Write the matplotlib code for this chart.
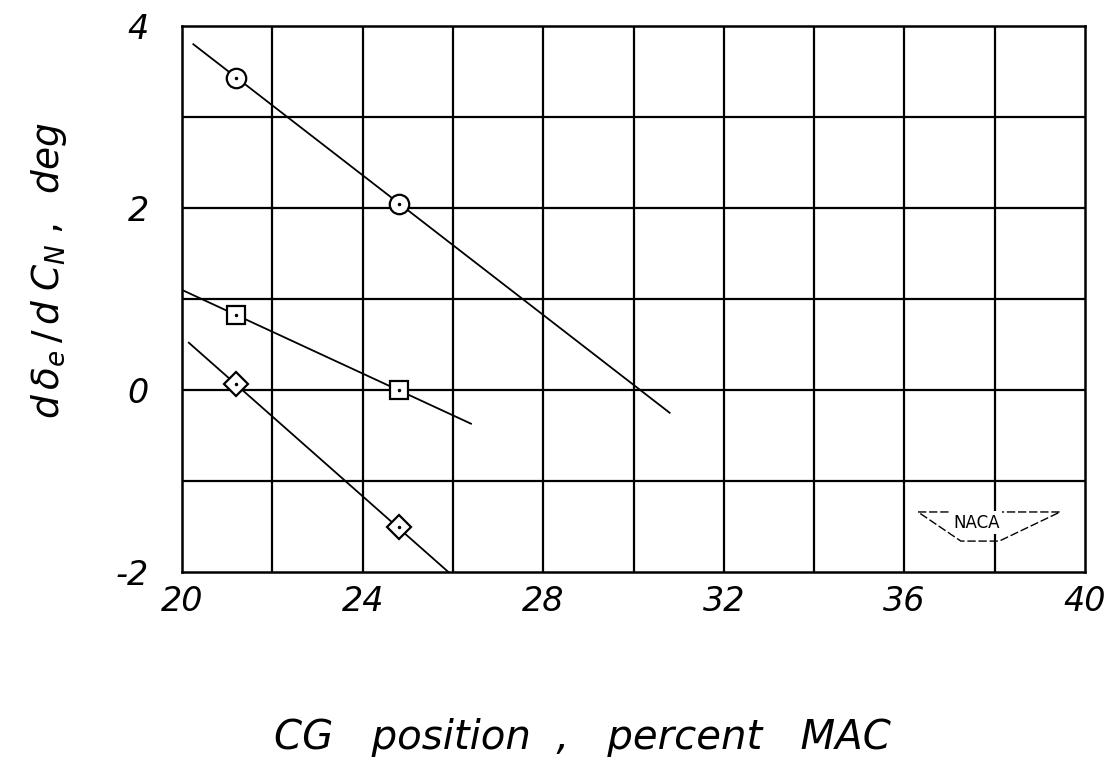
import matplotlib
matplotlib.use("Agg")
import matplotlib.pyplot as plt
import numpy as np

# test points
cg_pts = [21.2, 24.8]
circle_vals = [3.43, 2.04]
square_vals = [0.82, 0.00]
diamond_vals = [0.07, -1.51]

# faired lines (x range and end values)
circle_fair_x = [20.25, 30.8]
circle_fair_y = [3.80, -0.25]
square_fair_x = [20.0, 26.4]
square_fair_y = [1.10, -0.37]
diamond_fair_x = [20.15, 25.9]
diamond_fair_y = [0.52, -2.0]

x_ticks = [20, 24, 28, 32, 36, 40]
y_ticks = [-2, 0, 2, 4]

plt.rcParams['font.family'] = ['DejaVu Sans']
plt.rcParams['mathtext.fontset'] = 'dejavusans'

fig = plt.figure(figsize=(11.14, 7.70), dpi=100)
ax = fig.add_axes([0.1634, 0.2571, 0.8106, 0.7091])

ax.set_xlim(20, 40)
ax.set_ylim(-2, 4)

# grid drawn as heavy black lines like the graph paper
for gx in np.arange(22, 40, 2):
    ax.axvline(gx, color='black', lw=1.6, zorder=1)
for gy in np.arange(-1, 4, 1):
    ax.axhline(gy, color='black', lw=1.6, zorder=1)
for s in ax.spines.values():
    s.set_linewidth(1.8)

ax.plot(circle_fair_x, circle_fair_y, color='black', lw=1.3, zorder=2)
ax.plot(square_fair_x, square_fair_y, color='black', lw=1.3, zorder=2)
ax.plot(diamond_fair_x, diamond_fair_y, color='black', lw=1.3, zorder=2)

ax.plot(cg_pts, circle_vals, 'o', ms=14, mfc='white', mec='black', mew=1.6, zorder=3)
ax.plot(cg_pts, square_vals, 's', ms=13, mfc='white', mec='black', mew=1.6, zorder=3)
ax.plot(cg_pts, diamond_vals, 'D', ms=12.5, mfc='white', mec='black', mew=1.6, zorder=3)
# centre dots
for vals in (circle_vals, square_vals, diamond_vals):
    ax.plot(cg_pts, vals, '.', ms=3, color='black', zorder=4)

ax.set_xticks(x_ticks)
ax.set_yticks(y_ticks)
ax.set_xticklabels([str(t) for t in x_ticks], fontsize=24, fontstyle='italic')
ax.set_yticklabels([str(t) for t in y_ticks], fontsize=24, fontstyle='italic')
ax.tick_params(length=0)
ax.tick_params(axis='x', pad=9)
ax.tick_params(axis='y', pad=24)

fig.text(0.523, 0.042, 'CG   position  ,   percent   MAC', fontsize=29,
         fontstyle='italic', ha='center', va='center')
fig.text(0.044, 0.648, r'$d\,\delta_e\,/\,d\;C_N\;,\;\;deg$', fontsize=27,
         rotation=90, ha='center', va='center')

# NACA emblem
wing_x = [36.3, 39.45, 38.1, 37.25, 36.3]
wing_y = [-1.34, -1.34, -1.66, -1.66, -1.34]
ax.plot(wing_x, wing_y, color='black', lw=1.0, ls=(0, (6, 2)), zorder=2)
ax.text(37.6, -1.46, 'NACA', fontsize=12, ha='center', va='center',
        bbox=dict(boxstyle='square,pad=0.15', fc='white', ec='none'), zorder=3)

fig.savefig('out.png', dpi=100, facecolor='white')
